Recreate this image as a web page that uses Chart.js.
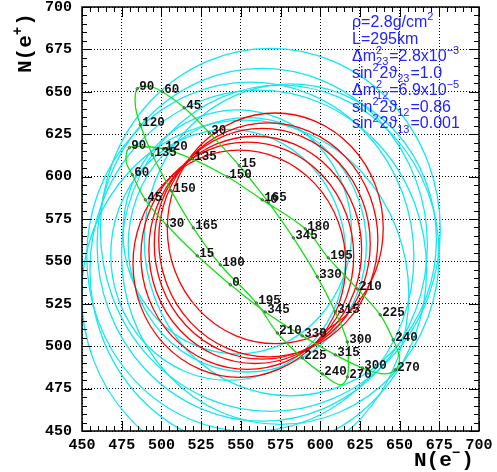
<!DOCTYPE html>
<html lang="en">
<head>
<meta charset="UTF-8">
<title>N(e-) vs N(e+)</title>
<style>
  body { margin: 0; background: #fff; }
  #wrap { width: 497px; height: 472px; }
</style>
</head>
<body>
<div id="wrap"><canvas id="chart"></canvas></div>

<script src="https://cdn.jsdelivr.net/npm/chart.js"></script>
<script>

// CP phase (degrees) at each point of the two trajectories
const deltas = [0, 15, 30, 45, 60, 75, 90, 105, 120, 135, 150, 165, 180, 195, 210, 225, 240, 255, 270, 285, 300, 315, 330, 345];
// which phases carry a text label in the picture
const shownA = [0, 15, 30, 45, 60, 90, 120, 135, 150, 165, 180, 195, 210, 225, 240, 270, 300, 315, 330, 345];
const shownB = [0, 15, 30, 45, 60, 90, 120, 135, 150, 165, 180, 195, 210, 225, 240, 270, 300, 315, 330, 345];

// trajectory A
const aX = [567.3, 549.1, 530.2, 514.4, 500.6, 492.5, 484.8, 483.6, 486.7, 494.3, 506.2, 520.1, 537.1, 559.8, 573.0, 588.7, 601.3, 612.7, 617.1, 617.7, 617.1, 609.5, 598.2, 583.1];
const aY = [585.1, 606.4, 625.8, 640.6, 650.0, 653.0, 651.8, 641.8, 630.6, 612.9, 591.6, 569.8, 548.0, 525.5, 507.8, 493.1, 483.7, 477.2, 481.9, 491.9, 502.5, 520.2, 540.9, 563.9];

// trajectory B
const bX = [543.4, 522.6, 503.7, 489.9, 481.7, 477.9, 479.8, 489.9, 501.2, 519.5, 541.5, 563.5, 590.6, 605.1, 623.4, 637.8, 646.0, 649.9, 647.3, 639.7, 626.5, 609.5, 588.7, 565.4];
const bY = [536.2, 553.3, 571.0, 586.3, 601.1, 608.7, 617.0, 617.6, 616.4, 610.5, 599.9, 586.3, 569.2, 552.1, 533.8, 518.5, 503.7, 493.1, 486.1, 483.7, 487.2, 494.9, 506.1, 520.2];

// error circles (centre and radius in events)
const redX = [549.1, 554.1, 559.1, 563.5, 567.3, 571.7];
const redY = [548.6, 553.3, 556.8, 560.4, 562.7, 569.5];
const redR = [67, 67, 67, 68, 69, 68];

const cyanX = [547.8, 554.1, 542.1, 568.6, 563.5, 556.0, 552.8, 581.2, 561.0, 574.9];
const cyanY = [567.4, 559.8, 553.9, 568.6, 559.8, 552.7, 530.3, 562.7, 545.0, 553.9];
const cyanR = [72, 75, 74, 107, 104, 103, 103, 92, 106, 100];

const infoLines = [
    [['ρ=2.8g/cm'], ['2', 'sup']],
    [['L=295km']],
    [['Δm'], ['2', 'sup', '23'], ['=2.8x10'], ['−3', 'sup']],
    [['sin'], ['2', 'sup'], ['2ϑ'], ['23', 'sub'], ['=1.0']],
    [['Δm'], ['2', 'sup', '12'], ['=6.9x10'], ['−5', 'sup']],
    [['sin'], ['2', 'sup'], ['2ϑ'], ['12', 'sub'], ['=0.86']],
    [['sin'], ['2', 'sup'], ['2ϑ'], ['13', 'sub'], ['=0.001']]
];

const MONO = '"Liberation Mono", "DejaVu Sans Mono", monospace';
const SANS = '"Liberation Sans", "DejaVu Sans", sans-serif';
const GREEN = 'rgb(20, 225, 20)';
const RED = 'rgb(255, 0, 0)';
const CYAN = 'rgb(20, 232, 240)';
const BLUE = 'rgb(35, 35, 255)';

function loop(xs, ys) {
    const pts = xs.map((x, i) => ({ x: x, y: ys[i] }));
    pts.push(pts[0]);
    return pts;
}

const circlePlugin = {
    id: 'circles',
    beforeDatasetsDraw(chart) {
        const { ctx, chartArea, scales } = chart;
        ctx.save();
        ctx.beginPath();
        ctx.rect(chartArea.left, chartArea.top, chartArea.right - chartArea.left, chartArea.bottom - chartArea.top);
        ctx.clip();
        ctx.lineWidth = 1.3;
        const draw = (xs, ys, rs, color) => {
            ctx.strokeStyle = color;
            xs.forEach((cx, i) => {
                const px = scales.x.getPixelForValue(cx);
                const py = scales.y.getPixelForValue(ys[i]);
                const rx = Math.abs(scales.x.getPixelForValue(cx + rs[i]) - px);
                const ry = Math.abs(scales.y.getPixelForValue(ys[i] + rs[i]) - py);
                ctx.beginPath();
                ctx.ellipse(px, py, rx, ry, 0, 0, Math.PI * 2);
                ctx.stroke();
            });
        };
        draw(cyanX, cyanY, cyanR, CYAN);
        draw(redX, redY, redR, RED);
        ctx.restore();
    }
};

const labelPlugin = {
    id: 'deltaLabels',
    afterDatasetsDraw(chart) {
        const ctx = chart.ctx;
        ctx.save();
        ctx.font = 'bold 12.5px ' + MONO;
        ctx.fillStyle = '#111';
        ctx.textBaseline = 'middle';
        [shownA, shownB].forEach((shown, d) => {
            const meta = chart.getDatasetMeta(d);
            deltas.forEach((dl, i) => {
                if (!shown.includes(dl)) return;
                const p = meta.data[i];
                ctx.strokeStyle = '#333';
                ctx.lineWidth = 0.8;
                ctx.beginPath();
                ctx.arc(p.x, p.y, 1.2, 0, Math.PI * 2);
                ctx.stroke();
                ctx.fillText(String(dl), p.x + 2, p.y - 2);
            });
        });
        ctx.restore();
    }
};

// ticks on all four sides, pointing inwards, plus the frame
const framePlugin = {
    id: 'frame',
    afterDraw(chart) {
        const { ctx, chartArea: a, scales } = chart;
        ctx.save();
        ctx.strokeStyle = '#000';
        ctx.lineWidth = 1;
        for (let v = 450; v <= 700; v += 5) {
            const len = v % 25 === 0 ? 10 : 5;
            const px = Math.round(scales.x.getPixelForValue(v)) + 0.5;
            const py = Math.round(scales.y.getPixelForValue(v)) + 0.5;
            ctx.beginPath();
            ctx.moveTo(px, a.bottom); ctx.lineTo(px, a.bottom - len);
            ctx.moveTo(px, a.top); ctx.lineTo(px, a.top + len);
            ctx.moveTo(a.left, py); ctx.lineTo(a.left + len, py);
            ctx.moveTo(a.right, py); ctx.lineTo(a.right - len, py);
            ctx.stroke();
        }
        ctx.lineWidth = 1.5;
        ctx.strokeRect(a.left, a.top, a.right - a.left, a.bottom - a.top);
        ctx.restore();
    }
};

function drawRich(ctx, parts, x, y, size, family, weight) {
    const small = Math.round(size * 0.68);
    parts.forEach(seg => {
        const [t, kind, under] = seg;
        if (!kind) {
            ctx.font = weight + ' ' + size + 'px ' + family;
            ctx.fillText(t, x, y);
            x += ctx.measureText(t).width;
        } else {
            ctx.font = weight + ' ' + small + 'px ' + family;
            const dy = kind === 'sup' ? -size * 0.42 : size * 0.28;
            ctx.fillText(t, x, y + dy);
            let w = ctx.measureText(t).width;
            if (under) {
                ctx.fillText(under, x, y + size * 0.28);
                w = Math.max(w, ctx.measureText(under).width);
            }
            x += w + 1;
        }
    });
}

const textPlugin = {
    id: 'texts',
    afterDraw(chart) {
        const ctx = chart.ctx;
        ctx.save();
        ctx.textBaseline = 'alphabetic';
        ctx.fillStyle = BLUE;
        infoLines.forEach((line, i) => {
            drawRich(ctx, line, 352, 27 + i * 16.9, 16, SANS, 'normal');
        });

        ctx.fillStyle = '#000';
        drawRich(ctx, [['N(e'], ['−', 'sup'], [')']], 414, 466, 21, MONO, 'bold');

        ctx.translate(31, 73);
        ctx.rotate(-Math.PI / 2);
        drawRich(ctx, [['N(e'], ['+', 'sup'], [')']], 0, 0, 21, MONO, 'bold');
        ctx.restore();
    }
};

const tickFont = { family: MONO, size: 15, weight: 'bold' };

const config = {
    type: 'scatter',
    data: {
        datasets: [{
            label: 'A',
            data: loop(aX, aY),
            showLine: true,
            borderColor: GREEN,
            borderWidth: 1.3,
            pointRadius: 0,
            tension: 0.35
        }, {
            label: 'B',
            data: loop(bX, bY),
            showLine: true,
            borderColor: GREEN,
            borderWidth: 1.3,
            pointRadius: 0,
            tension: 0.35
        }]
    },
    options: {
        responsive: true,
        maintainAspectRatio: false,
        animation: false,
        layout: { padding: { top: 7, right: 18, left: 0, bottom: 0 } },
        plugins: {
            legend: { display: false },
            tooltip: { enabled: false }
        },
        scales: {
            x: {
                type: 'linear',
                min: 450,
                max: 700,
                ticks: { stepSize: 25, color: '#000', font: tickFont, padding: 5, maxRotation: 0 },
                grid: { color: '#000', lineWidth: 1, drawTicks: false },
                border: { display: false, dash: [1, 2] },
                afterFit(scale) {
                    scale.height = 41;
                    scale.paddingLeft = 0;
                    scale.paddingRight = 0;
                }
            },
            y: {
                type: 'linear',
                min: 450,
                max: 700,
                ticks: { stepSize: 25, color: '#000', font: tickFont, padding: 10 },
                grid: { color: '#000', lineWidth: 1, drawTicks: false },
                border: { display: false, dash: [1, 2] },
                afterFit(scale) {
                    scale.width = 82;
                    scale.paddingTop = 0;
                    scale.paddingBottom = 0;
                }
            }
        }
    },
    plugins: [circlePlugin, labelPlugin, framePlugin, textPlugin]
};

const chart = new Chart(document.getElementById('chart'), config);

</script>
</body>
</html>
